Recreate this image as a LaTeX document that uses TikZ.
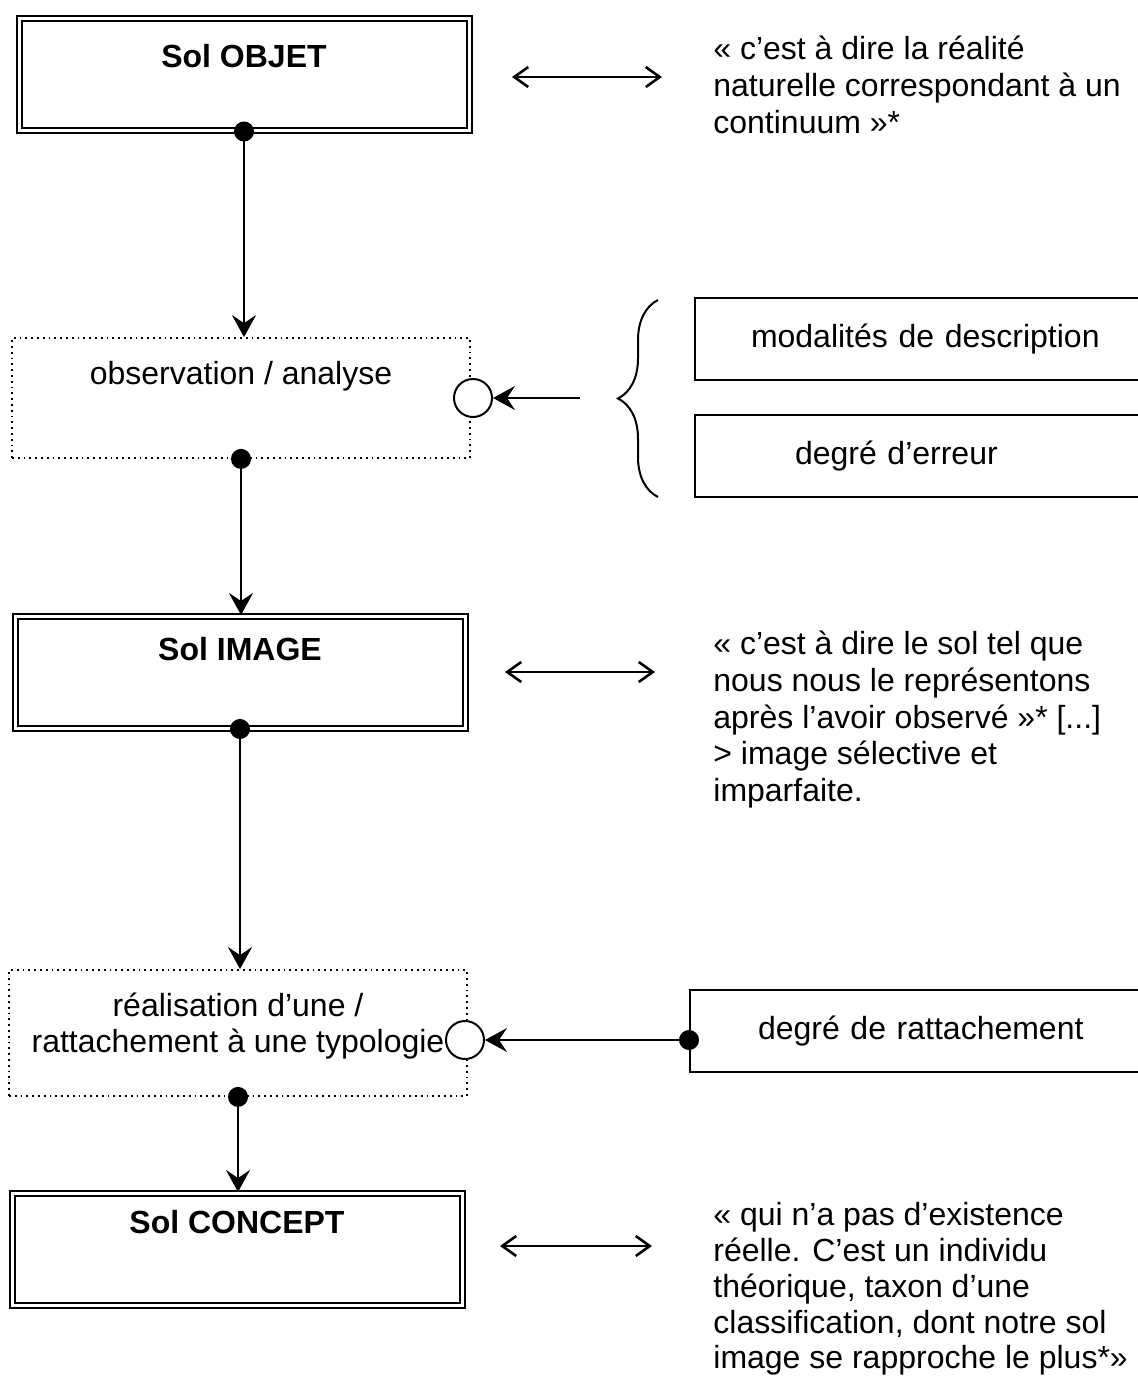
\documentclass[tikz,border=0pt]{standalone}
\usepackage{fontspec}
\setmainfont{Liberation Sans}
\usetikzlibrary{arrows.meta,decorations.pathreplacing}

\newcommand{\diagfont}{\fontsize{16pt}{18.3pt}\selectfont}

\tikzset{
  solbox/.style={draw,double,line width=1pt,double distance=1.5pt,minimum width=225pt,
    inner sep=0pt,text height=22pt,text depth=34pt,font=\diagfont\bfseries},
  stepbox/.style={draw,dotted,line width=0.9pt,minimum width=229pt,inner sep=0pt},
  sidebox/.style={draw,line width=1pt,anchor=west,minimum height=41pt,text width=210pt,align=left},
  hub/.style={circle,draw,line width=1pt,fill=white,minimum size=19pt,inner sep=0pt},
  flow/.style={{Circle[length=10pt]}-{Stealth[length=11pt,width=12pt,inset=4pt]},
    line width=1pt,shorten <=-5pt},
  feed/.style={-{Stealth[length=11pt,width=12pt,inset=4pt]},line width=1pt},
  equiv/.style={{Straight Barb[length=7pt,width=10pt]}-{Straight Barb[length=7pt,width=10pt]},line width=1.3pt},
  quote/.style={anchor=north west,align=left,inner sep=0pt}
}

\begin{document}
\begin{tikzpicture}[x=0.5pt,y=-0.5pt,font=\diagfont]
  \useasboundingbox (0,0) rectangle (1138,1378);
  \clip (0,0) rectangle (1138,1378);

  % left column
  \node[solbox,text height=24.5pt,text depth=31.5pt] (objet) at (244,74.5) {Sol OBJET};
  \node[stepbox,text height=23pt,text depth=37pt] (obs) at (241,398) {observation / analyse};
  \node[solbox] (image) at (240,672) {Sol IMAGE};
  \node[stepbox,text height=23pt,text depth=40pt] (typo) at (238,1033)
    {\begin{tabular}[t]{@{}c@{}}réalisation d’une /\\rattachement à une typologie\end{tabular}};
  \node[solbox,text height=20pt,text depth=36pt] (concept) at (237,1249) {Sol CONCEPT};

  \draw[flow] (objet.south) -- (objet.south |- obs.north);
  \draw[flow] (obs.south) -- (obs.south |- image.north);
  \draw[flow] (image.south) -- (image.south |- typo.north);
  \draw[flow] (typo.south) -- (typo.south |- concept.north);

  % right column
  \node[sidebox,inner xsep=28pt] (modal) at (694,339) {modalités de description};
  \node[sidebox,inner xsep=50pt] (erreur) at (694,456) {degré d’erreur};
  \node[sidebox,inner xsep=34pt] (ratt) at (689,1031) {degré de rattachement};

  \draw[decorate,decoration={brace,amplitude=20pt},line width=1pt] (658,497) -- (658,300);
  \node[hub] (c1) at (473,398) {};
  \node[hub] (c2) at (465,1040) {};
  \coordinate (bracetip) at (580,398);
  \draw[feed] (bracetip) -- (c1);
  \draw[flow] (ratt.west |- c2) -- (c2);

  % definitions
  \coordinate (e1a) at (512,77);  \coordinate (e1b) at (662,77);
  \coordinate (e2a) at (505,672); \coordinate (e2b) at (655,672);
  \coordinate (e3a) at (500,1246); \coordinate (e3b) at (652,1246);
  \draw[equiv] (e1a) -- (e1b);
  \draw[equiv] (e2a) -- (e2b);
  \draw[equiv] (e3a) -- (e3b);

  \node[quote] (q1) at (713,36) {« c’est à dire la réalité\\naturelle correspondant à un\\continuum »*};
  \node[quote] (q2) at (713,631) {« c’est à dire le sol tel que\\nous nous le représentons\\après l’avoir observé »* [...]\\> image sélective et\\imparfaite.};
  \node[quote,font=\fontsize{16pt}{17.9pt}\selectfont] (q3) at (713,1202) {« qui n’a pas d’existence\\réelle. C’est un individu\\théorique, taxon d’une\\classification, dont notre sol\\image se rapproche le plus*»};
\end{tikzpicture}
\end{document}
